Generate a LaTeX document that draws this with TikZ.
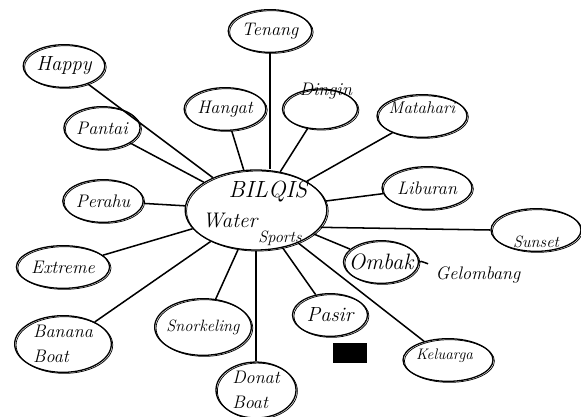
\documentclass[tikz,border=0pt]{standalone}
\usetikzlibrary{shapes.geometric}
\begin{document}
\begin{tikzpicture}[
    x=0.03cm, y=-0.03cm,
    every node/.style={font=\fontsize{15.5}{18}\selectfont\itshape},
    every label/.style={font=\fontsize{15.5}{18}\selectfont\itshape},
    bubble/.style={ellipse, draw, line width=1.1pt, minimum width=2.25cm, minimum height=1.28cm, inner sep=1pt,
        postaction={draw, semithick, transform canvas={shift={(1.2pt,-0.9pt)}}}},
    wide/.style={bubble, minimum width=2.7cm},
    big/.style={bubble, minimum width=2.9cm, minimum height=1.7cm, align=left},
    spoke/.style={draw, line width=1.3pt}
]
    \useasboundingbox (0,0) rectangle (581,417);

    \node[bubble, minimum width=4.25cm, minimum height=2.4cm] (hub) at (256,210) {};
    \node[font=\fontsize{20}{24}\selectfont\itshape] (bilqis) at (268,192) {BILQIS};
    \node[font=\fontsize{18}{22}\selectfont\itshape] (water) at (230,221) {Water};
    \node[font=\fontsize{14}{17}\selectfont\itshape] (sports) at (280,238) {Sports};

    \node[bubble, font=\fontsize{17.5}{20}\selectfont\itshape] (happy) at (64,66) {Happy};
    \node[bubble] (tenang) at (270,31) {Tenang};
    \node[bubble] (hangat) at (225,109) {Hangat};
    \node[bubble, minimum height=1.2cm, label={[yshift=15pt, xshift=5pt]center:Dingin}] (dingin) at (320,109) {};
    \node[wide, label={[yshift=7pt, font=\fontsize{14.5}{17}\selectfont\itshape]center:Matahari}] (matahari) at (422,116) {};
    \node[bubble] (pantai) at (102,128) {Pantai};
    \node[bubble] (perahu) at (103,201) {Perahu};
    \node[wide] (liburan) at (427,188) {Liburan};
    \node[wide, label={[yshift=-10pt, font=\fontsize{14}{17}\selectfont\itshape]center:Sunset}] (sunset) at (536,230) {};
    \node[wide] (extreme) at (63,267) {Extreme};
    \node[bubble, label={[font=\fontsize{19}{22}\selectfont\itshape]center:Ombak}] (ombak) at (381,262) {};
    \node (gelombang) at (478,275) {Gelombang};
    \node[bubble, font=\fontsize{17.5}{20}\selectfont\itshape] (pasir) at (330,315) {Pasir};
    \node[wide, label={[yshift=4pt, xshift=-3pt, font=\fontsize{13}{16}\selectfont\itshape]center:Keluarga}] (keluarga) at (448,360) {};
    \node[big] (banana) at (63,344) {Banana\\[3pt]Boat};
    \node[big, label={[font=\fontsize{14}{17}\selectfont\itshape]center:Snorkeling}] (snorkeling) at (203,327) {};
    \node[big, minimum width=2.4cm, minimum height=1.65cm] (donat) at (256,390) {Donat\\[3pt]Boat};
    \node[fill=black, minimum width=1cm, minimum height=0.6cm, inner sep=0pt] (blot) at (350,353) {};

    \foreach \n in {happy, hangat, dingin, matahari, pantai, perahu, liburan,
        extreme, ombak, pasir, keluarga, banana, snorkeling, donat}
        \draw[spoke] (\n) -- (hub);
    \draw[spoke] (tenang) -- (tenang |- hub.north);
    \draw[spoke] (sunset.west) -- (hub.-15);
    \draw[spoke] (ombak.east) to[out=30, in=175] ([xshift=-3pt, yshift=-1pt]gelombang.north west);
\end{tikzpicture}
\end{document}
